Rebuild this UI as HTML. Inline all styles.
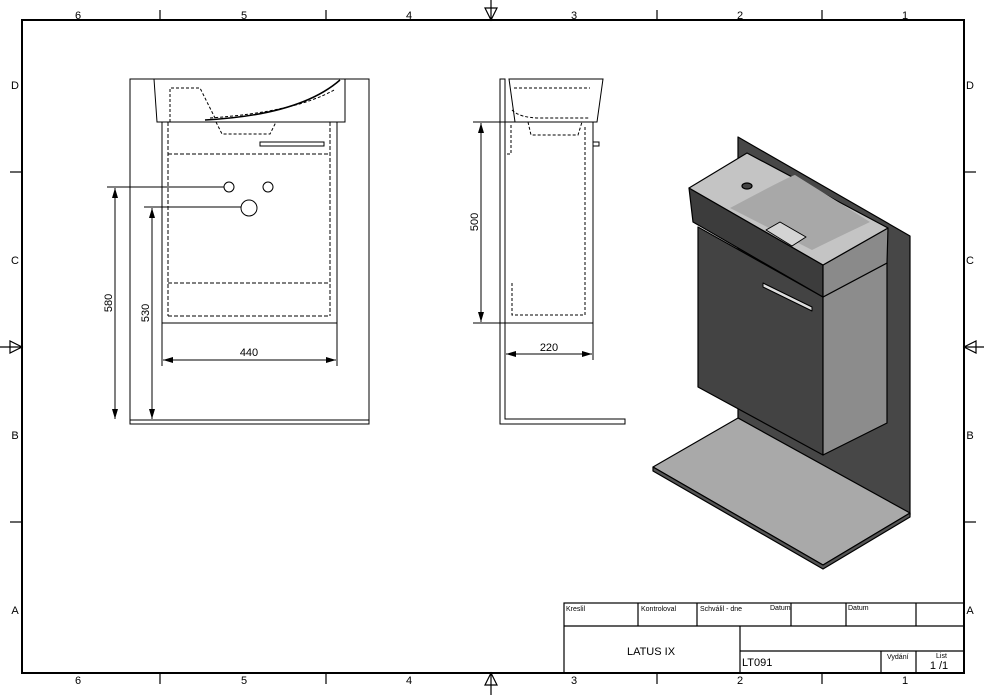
<!DOCTYPE html>
<html><head><meta charset="utf-8"><style>html,body{margin:0;padding:0;background:#fff}svg{display:block}text{font-family:"Liberation Sans",sans-serif}</style></head>
<body>
<svg width="984" height="695" viewBox="0 0 984 695" xmlns="http://www.w3.org/2000/svg">
<defs>
<marker id="ar" viewBox="0 0 10 6" refX="10" refY="3" markerWidth="10" markerHeight="6" orient="auto-start-reverse"><path d="M0,0 L10,3 L0,6 z" fill="#000"/></marker>
</defs>
<rect x="22" y="20" width="942" height="653" fill="none" stroke="#000" stroke-width="2"/>
<g stroke="#000" stroke-width="1.2">
<line x1="160" y1="10" x2="160" y2="20"/><line x1="326" y1="10" x2="326" y2="20"/><line x1="657" y1="10" x2="657" y2="20"/><line x1="822" y1="10" x2="822" y2="20"/>
<line x1="160" y1="673" x2="160" y2="684"/><line x1="326" y1="673" x2="326" y2="684"/><line x1="657" y1="673" x2="657" y2="684"/><line x1="822" y1="673" x2="822" y2="684"/>
<line x1="10" y1="172" x2="22" y2="172"/><line x1="10" y1="522" x2="22" y2="522"/>
<line x1="964" y1="172" x2="976" y2="172"/><line x1="964" y1="522" x2="976" y2="522"/>
<line x1="491" y1="0" x2="491" y2="20"/><path d="M485,8 L497,8 L491,20 z" fill="none"/>
<line x1="491" y1="673" x2="491" y2="695"/><path d="M485,685 L497,685 L491,673 z" fill="none"/>
<line x1="0" y1="347" x2="22" y2="347"/><path d="M10,341 L10,353 L22,347 z" fill="none"/>
<line x1="964" y1="347" x2="984" y2="347"/><path d="M976,341 L976,353 L964,347 z" fill="none"/>
</g>
<g font-size="11" text-anchor="middle" fill="#000">
<text x="78" y="19">6</text><text x="244" y="19">5</text><text x="409" y="19">4</text><text x="574" y="19">3</text><text x="740" y="19">2</text><text x="905" y="19">1</text>
<text x="78" y="684">6</text><text x="244" y="684">5</text><text x="409" y="684">4</text><text x="574" y="684">3</text><text x="740" y="684">2</text><text x="905" y="684">1</text>
<text x="15" y="89">D</text><text x="15" y="264">C</text><text x="15" y="439">B</text><text x="15" y="614">A</text>
<text x="970" y="89">D</text><text x="970" y="264">C</text><text x="970" y="439">B</text><text x="970" y="614">A</text>
</g>
<g fill="none" stroke="#000" stroke-width="1">
<rect x="130" y="79" width="239" height="345"/>
<line x1="130" y1="420" x2="369" y2="420"/>
<path d="M154,79 L157,122 L345,122 L345,79"/>
<path d="M205,120 Q300,115 340,80" stroke-width="1.5"/>
<path d="M210,118 Q295,112 334,90" stroke-dasharray="3,2"/>
<path d="M216,122 L222,134 L270,134 L276,122" stroke-dasharray="3,2"/>
<path d="M170,122 L170,88 L200,88 L215,118" stroke-dasharray="3,2"/>
<rect x="162" y="122" width="175" height="201"/>
<line x1="168" y1="122" x2="168" y2="316" stroke-dasharray="4,2"/><line x1="330" y1="122" x2="330" y2="316" stroke-dasharray="4,2"/>
<line x1="168" y1="154" x2="330" y2="154" stroke-dasharray="4,2"/><line x1="168" y1="283" x2="330" y2="283" stroke-dasharray="4,2"/><line x1="168" y1="316" x2="330" y2="316" stroke-dasharray="4,2"/>
<rect x="260" y="142" width="64" height="4"/>
<circle cx="229" cy="187" r="5"/><circle cx="268" cy="187" r="5"/><circle cx="249" cy="208" r="8"/>
<line x1="107" y1="187" x2="224" y2="187"/><line x1="144" y1="207" x2="241" y2="207"/>
<line x1="115" y1="188" x2="115" y2="419" marker-start="url(#ar)" marker-end="url(#ar)"/>
<line x1="152" y1="208" x2="152" y2="419" marker-start="url(#ar)" marker-end="url(#ar)"/>
<line x1="162" y1="323" x2="162" y2="366"/><line x1="337" y1="323" x2="337" y2="366"/>
<line x1="163" y1="360" x2="336" y2="360" marker-start="url(#ar)" marker-end="url(#ar)"/>
</g>
<g font-size="11" fill="#000">
<text x="249" y="356" text-anchor="middle">440</text>
<text transform="translate(112,303) rotate(-90)" text-anchor="middle">580</text>
<text transform="translate(149,313) rotate(-90)" text-anchor="middle">530</text>
<text transform="translate(478,222) rotate(-90)" text-anchor="middle">500</text>
<text x="549" y="351" text-anchor="middle">220</text>
</g>
<g fill="none" stroke="#000" stroke-width="1">
<path d="M500,79 L500,424 L625,424 L625,419 L505,419 L505,79 z"/>
<path d="M509,79 L515,122 L597,122 L603,79 z"/>
<path d="M512,110 Q520,118 540,118 L590,118" stroke-dasharray="3,2"/>
<path d="M514,88 L590,88" stroke-dasharray="3,2"/>
<path d="M528,122 L531,135 L578,135 L582,122" stroke-dasharray="3,2"/>
<rect x="505" y="122" width="88" height="201"/>
<path d="M511,125 L511,154 L505,154" stroke-dasharray="3,2"/>
<path d="M512,283 L512,315 L585,315 L585,125" stroke-dasharray="3,2"/>
<path d="M593,142 L599,142 L599,146 L593,146"/>
<line x1="473" y1="122" x2="505" y2="122"/><line x1="473" y1="323" x2="505" y2="323"/>
<line x1="481" y1="123" x2="481" y2="322" marker-start="url(#ar)" marker-end="url(#ar)"/>
<line x1="593" y1="323" x2="593" y2="360"/>
<line x1="506" y1="354" x2="592" y2="354" marker-start="url(#ar)" marker-end="url(#ar)"/>
</g>
<g stroke="#000" stroke-width="1.2" stroke-linejoin="round">
<path d="M738,137 L910,236 L910,515 L738,418 z" fill="#474747"/>
<path d="M653,467 L738,418 L910,513 L823,565 z" fill="#a9a9a9"/>
<path d="M653,467 L653,471 L823,569 L910,517 L910,513 L823,565 z" fill="#555"/>
<path d="M698,227 L823,297 L823,455 L698,387 z" fill="#434343"/>
<path d="M823,297 L887,263 L887,423 L823,455 z" fill="#8c8c8c"/>
<path d="M689,188 L823,265 L823,297 L693,222 z" fill="#3c3c3c"/>
<path d="M823,265 L888,228 L887,263 L823,297 z" fill="#8a8a8a"/>
<path d="M689,188 L747,153 L888,228 L823,265 z" fill="#c4c4c4"/>
<path d="M730,208 Q790,176 795,175 L870,222 Q832,240 812,250 Z" fill="#a8a8a8" stroke="none"/>
<path d="M766,230 L780,222 L806,237 L792,246 z" fill="#d4d4d4" stroke-width="1"/>
<ellipse cx="747" cy="186" rx="5" ry="3" fill="#444"/>
<path d="M763,283 L812,307 L812,311 L763,287 z" fill="#ddd" stroke-width="1"/>
</g>
<g fill="none" stroke="#000" stroke-width="1.2">
<rect x="564" y="603" width="400" height="70"/>
<line x1="564" y1="626" x2="964" y2="626"/>
<line x1="638" y1="603" x2="638" y2="626"/><line x1="697" y1="603" x2="697" y2="626"/><line x1="791" y1="603" x2="791" y2="626"/><line x1="846" y1="603" x2="846" y2="626"/><line x1="916" y1="603" x2="916" y2="626"/>
<line x1="740" y1="626" x2="740" y2="673"/><line x1="740" y1="651" x2="964" y2="651"/>
<line x1="881" y1="651" x2="881" y2="673"/><line x1="916" y1="651" x2="916" y2="673"/>
</g>
<g fill="#000">
<text x="566" y="611" font-size="7">Kreslil</text><text x="641" y="611" font-size="7">Kontroloval</text><text x="700" y="611" font-size="7">Schválil - dne</text><text x="770" y="610" font-size="7">Datum</text><text x="848" y="610" font-size="7">Datum</text>
<text x="651" y="655" font-size="11" text-anchor="middle">LATUS IX</text>
<text x="742" y="666" font-size="11">LT091</text>
<text x="887" y="659" font-size="7">Vydání</text><text x="936" y="658" font-size="7">List</text>
<text x="939" y="669" font-size="11" text-anchor="middle">1 /1</text>
</g>
</svg>
</body></html>
